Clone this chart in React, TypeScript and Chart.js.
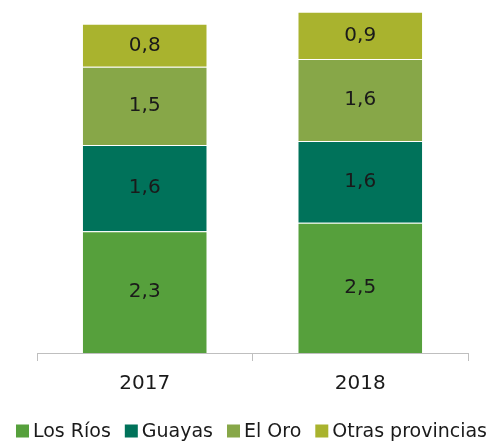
import React, { useEffect, useRef } from "react";
import { Chart, registerables } from "chart.js";

Chart.register(...registerables);

const categories = ["2017", "2018"];
const seriesNames = ["Los Ríos", "Guayas", "El Oro", "Otras provincias"];
const losRios = [2.32, 2.48];
const guayas = [1.64, 1.56];
const elOro = [1.49, 1.56];
const otras = [0.82, 0.9];
const seriesColors = ["#56a03c", "#00725a", "#87a748", "#a9b32e"];

const FONT = "'DejaVu Sans', sans-serif";

const labelPlugin = {
  id: "barLabels",
  afterDatasetsDraw(chart: any) {
    const ctx = chart.ctx;
    ctx.save();
    ctx.fillStyle = "#1a1a1a";
    ctx.font = `20px ${FONT}`;
    ctx.textAlign = "center";
    ctx.textBaseline = "middle";
    chart.data.datasets.forEach((ds: any, i: number) => {
      const meta = chart.getDatasetMeta(i);
      meta.data.forEach((bar: any, j: number) => {
        const { x, y, base } = bar.getProps(["x", "y", "base"], true);
        const v = ds.data[j] as number;
        ctx.fillText(v.toFixed(1).replace(".", ","), x, (y + base) / 2);
      });
    });
    ctx.restore();
  },
};

const legendPlugin = {
  id: "customLegend",
  afterDraw(chart: any) {
    const ctx = chart.ctx;
    ctx.save();
    ctx.font = `19px ${FONT}`;
    ctx.textBaseline = "middle";
    ctx.textAlign = "left";
    const box = 13;
    const gap = 4;
    const itemGap = 14;
    const items = chart.data.datasets.map((ds: any) => ({
      label: ds.label,
      color: ds.backgroundColor,
      w: ctx.measureText(ds.label).width,
    }));
    const total =
      items.reduce((s: number, it: any) => s + box + gap + it.w, 0) +
      itemGap * (items.length - 1);
    let x = (chart.width - total) / 2;
    const cy = chart.height - 12;
    items.forEach((it: any) => {
      ctx.fillStyle = it.color;
      ctx.fillRect(x, cy - box / 2, box, box);
      x += box + gap;
      ctx.fillStyle = "#1a1a1a";
      ctx.fillText(it.label, x, cy + 1);
      x += it.w + itemGap;
    });
    ctx.restore();
  },
};

export default function App() {
  const ref = useRef<HTMLCanvasElement>(null);
  useEffect(() => {
    if (!ref.current) return;
    const values = [losRios, guayas, elOro, otras];
    const chart = new Chart(ref.current, {
      type: "bar",
      data: {
        labels: categories,
        datasets: seriesNames.map((name, i) => ({
          label: name,
          data: values[i],
          backgroundColor: seriesColors[i],
          borderColor: "rgba(255,255,255,0.45)",
          borderWidth: { top: 1, bottom: 0, left: 0, right: 0 },
          borderSkipped: false,
          categoryPercentage: 1,
          barPercentage: 0.575,
        })),
      },
      options: {
        responsive: false,
        animation: false,
        maintainAspectRatio: false,
        layout: { padding: { top: 10, left: 37, right: 35, bottom: 36 } },
        plugins: {
          legend: { display: false },
          tooltip: { enabled: false },
        },
        scales: {
          x: {
            stacked: true,
            grid: {
              offset: true,
              drawOnChartArea: false,
              drawTicks: true,
              tickLength: 8,
              color: "#bfbfbf",
            },
            border: { display: true, color: "#bfbfbf" },
            ticks: {
              color: "#1a1a1a",
              font: { family: FONT, size: 20 },
              padding: 11,
            },
          },
          y: {
            stacked: true,
            display: false,
            min: 0,
            max: 6.533,
          },
        },
      },
      plugins: [labelPlugin, legendPlugin],
    });
    return () => chart.destroy();
  }, []);
  return (
    <div style={{ position: "fixed", left: 0, top: 0, width: 503, height: 443 }}>
      <canvas ref={ref} width={503} height={443} style={{ width: 503, height: 443 }} />
    </div>
  );
}
